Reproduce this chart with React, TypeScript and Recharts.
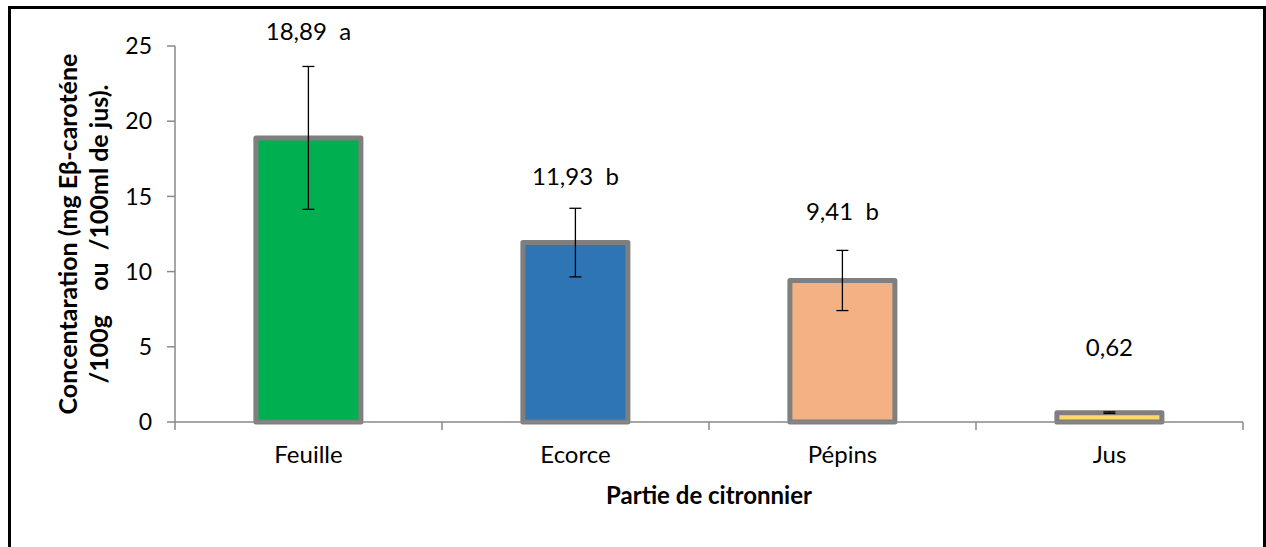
import { BarChart, Bar, XAxis, YAxis, Cell, ErrorBar, LabelList } from 'recharts';

// parts of the lemon tree
const categories = ['Feuille', 'Ecorce', 'Pépins', 'Jus'];
const concentrations = [18.89, 11.93, 9.41, 0.62];
const errors = [4.75, 2.28, 2.0, 0.05];
const groups = ['a', 'b', 'b', ''];
const yTicks = [0, 5, 10, 15, 20, 25];

const barColors = ['#00B050', '#2E75B6', '#F4B183', '#FFD966'];
// how far (px) each value label sits above its bar, hand-placed like in the original
const labelLift = [98, 58, 60, 57];

const W = 1266;
const H = 547;
const LEFT = 175;
const RIGHT = 23;
const TOP = 46;
const XAXIS_H = 125;
const TICK = 8;
const GREY = '#898989';
const FONT = 'Lato, "Open Sans", sans-serif';
const HALF_BAND = (W - LEFT - RIGHT) / categories.length / 2;

const data = categories.map((name, i) => ({
  name,
  value: concentrations[i],
  err: errors[i],
}));

const fmt = (v: number) => v.toFixed(2).replace('.', ',');

const CategoryTick = (props: any) => {
  const { x, y, payload, index } = props;
  const half = payload && payload.offset ? payload.offset : HALF_BAND;
  const last = index === categories.length - 1;
  return (
    <g>
      <line x1={x - half} x2={x - half} y1={y - TICK} y2={y} stroke={GREY} strokeWidth={1.5} />
      {last && <line x1={x + half} x2={x + half} y1={y - TICK} y2={y} stroke={GREY} strokeWidth={1.5} />}
      <text x={x} y={y + 33} textAnchor="middle" fontSize={24} fontFamily={FONT} fill="#000">
        {payload.value}
      </text>
    </g>
  );
};

const XTitle = (props: any) => {
  const vb = props.viewBox;
  return (
    <text x={vb.x + vb.width / 2} y={vb.y + 82} textAnchor="middle" fontSize={24} fontWeight="bold" fontFamily={FONT} fill="#000">
      Partie de citronnier
    </text>
  );
};

const YTitle = (props: any) => {
  const vb = props.viewBox;
  const cy = vb.y + vb.height / 2;
  return (
    <g transform={`translate(0, ${cy}) rotate(-90)`}>
      <text x={0} y={77} textAnchor="middle" fontSize={25} fontWeight="bold" fontFamily={FONT} fill="#000" style={{ whiteSpace: 'pre' }}>
        Concentaration (mg Eβ-caroténe
      </text>
      <text x={0} y={108} textAnchor="middle" fontSize={25} fontWeight="bold" fontFamily={FONT} fill="#000" style={{ whiteSpace: 'pre' }}>
        {'/100g    ou  /100ml de jus).'}
      </text>
    </g>
  );
};

const ValueLabel = (props: any) => {
  const { x, y, width, index } = props;
  const g = groups[index];
  const txt = g ? `${fmt(concentrations[index])}  ${g}` : fmt(concentrations[index]);
  return (
    <text x={x + width / 2} y={y - labelLift[index]} textAnchor="middle" fontSize={24} fontFamily={FONT} fill="#000" style={{ whiteSpace: 'pre' }}>
      {txt}
    </text>
  );
};

export default function App() {
  return (
    <div style={{ position: 'absolute', left: 0, top: 0, width: W, height: H, overflow: 'hidden', background: '#fff' }}>
      <div
        style={{
          position: 'absolute',
          left: 8,
          top: 6,
          width: W - 8,
          height: H + 20,
          border: '3px solid #000',
          boxSizing: 'border-box',
        }}
      />
      <div style={{ position: 'absolute', left: 0, top: 0 }}>
        <BarChart
          width={W}
          height={H}
          data={data}
          margin={{ top: TOP, right: RIGHT, bottom: 0, left: 0 }}
          barCategoryGap="30.3%"
        >
          <XAxis
            dataKey="name"
            height={XAXIS_H}
            tickLine={false}
            tickSize={TICK}
            tickMargin={0}
            axisLine={{ stroke: GREY, strokeWidth: 1.5 }}
            tick={CategoryTick}
            interval={0}
            label={XTitle}
          />
          <YAxis
            width={LEFT}
            domain={[0, 25]}
            ticks={yTicks}
            interval={0}
            tickSize={TICK}
            tickMargin={15}
            axisLine={{ stroke: GREY, strokeWidth: 1.5 }}
            tickLine={{ stroke: GREY, strokeWidth: 1.5 }}
            tick={{ fontSize: 23, fontFamily: FONT, fill: '#000' }}
            label={YTitle}
          />
          <Bar
            dataKey="value"
            stroke="#7F7F7F"
            strokeWidth={5}
            strokeLinejoin="round"
            isAnimationActive={false}
          >
            {data.map((d, i) => (
              <Cell key={d.name} fill={barColors[i]} />
            ))}
            <ErrorBar dataKey="err" width={6} stroke="#000" strokeWidth={1.3} />
            <LabelList dataKey="value" content={ValueLabel} />
          </Bar>
        </BarChart>
      </div>
    </div>
  );
}
